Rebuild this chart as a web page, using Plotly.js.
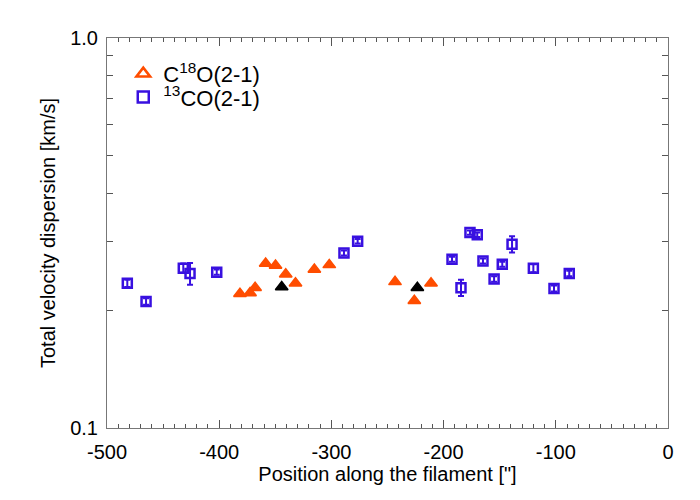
<!DOCTYPE html>
<html>
<head>
<meta charset="utf-8">
<script src="https://cdn.plot.ly/plotly-3.0.1.min.js"></script>
<style>html,body{margin:0;padding:0;background:#fff;}#chart{width:700px;height:500px;}</style>
</head>
<body>
<div id="chart"></div>
<script>
// C18O(2-1) measurements
const c18oPos = [-381.5, -372.5, -368, -358.6, -349.8, -340.7, -332, -315.2, -301.9, -243.3, -226.1, -211.2];
const c18oSig = [0.221, 0.222, 0.229, 0.264, 0.261, 0.248, 0.235, 0.255, 0.262, 0.237, 0.212, 0.235];
// highlighted (black) C18O points
const blackPos = [-344.3, -223.4];
const blackSig = [0.230, 0.229];
// 13CO(2-1) measurements
const coPos = [-481.9, -465.2, -432, -426, -402.2, -288.8, -276.6, -192.5, -184.5, -176.5, -170, -164.9, -155, -147.7, -139, -120, -101.6, -88];
const coSig = [0.235, 0.211, 0.257, 0.249, 0.251, 0.281, 0.301, 0.271, 0.229, 0.317, 0.313, 0.268, 0.241, 0.263, 0.296, 0.257, 0.228, 0.249];
const coErr = [0.005, 0.004, 0.007, 0.016, 0.004, 0.004, 0.004, 0.004, 0.011, 0.004, 0.004, 0.004, 0.004, 0.004, 0.014, 0.006, 0.004, 0.004];

// axis ticks
const xTickVals = [-500, -400, -300, -200, -100, 0];
const xTickText = ['-500', '-400', '-300', '-200', '-100', '0'];
const yTickVals = [0.1, 1];
const yTickText = ['0.1', '1.0'];
const yMinorVals = [0.2, 0.3, 0.4, 0.5, 0.6, 0.7, 0.8, 0.9];

const orange = '#ff4d00';
const blue = '#3810e0';

const traces = [
  {x: coPos, y: coSig, type: 'scatter', mode: 'markers', showlegend: false,
   marker: {symbol: 'square-open', size: 9, color: blue, line: {width: 2.5, color: blue}},
   error_y: {type: 'data', array: coErr, visible: true, color: blue, thickness: 2, width: 3}},
  {x: c18oPos, y: c18oSig, type: 'scatter', mode: 'markers', showlegend: false,
   marker: {symbol: 'triangle-up', size: 11, color: orange, line: {width: 1.5, color: orange}}},
  {x: blackPos, y: blackSig, type: 'scatter', mode: 'markers', showlegend: false,
   marker: {symbol: 'triangle-up', size: 11, color: '#000', line: {width: 1.5, color: '#000'}}},
  {x: [null], y: [null], type: 'scatter', mode: 'markers', name: 'C<sup>18</sup>O(2-1)', legend: 'legend',
   marker: {symbol: 'triangle-up-open', size: 12, color: orange, line: {width: 2.5, color: orange}}},
  {x: [null], y: [null], type: 'scatter', mode: 'markers', name: '<sup>13</sup>CO(2-1)', legend: 'legend2',
   marker: {symbol: 'square-open', size: 11, color: blue, line: {width: 2.5, color: blue}}}
];

const fam = 'Liberation Sans, Arial, sans-serif';
const font = {family: fam, size: 20, color: '#000'};
const legFont = {family: fam, size: 22, color: '#000'};
const layout = {
  width: 700, height: 500,
  margin: {l: 107, r: 32, t: 38, b: 72},
  paper_bgcolor: '#fff', plot_bgcolor: '#fff',
  font: font,
  showlegend: true,
  legend: {x: 0.029, y: 0.962, xanchor: 'left', yanchor: 'top', bgcolor: 'rgba(0,0,0,0)',
           font: legFont, itemwidth: 30},
  legend2: {x: 0.029, y: 0.902, xanchor: 'left', yanchor: 'top', bgcolor: 'rgba(0,0,0,0)',
           font: legFont, itemwidth: 30},
  xaxis: {
    range: [-500, 0], tickmode: 'array', tickvals: xTickVals, ticktext: xTickText,
    ticks: 'inside', ticklen: 8, tickwidth: 1, tickcolor: '#555',
    showline: true, linecolor: '#777', linewidth: 1, mirror: 'allticks',
    showgrid: false, zeroline: false, ticklabelstandoff: 6,
    minor: {dtick: 10, tick0: -500, ticks: 'inside', ticklen: 4, tickcolor: '#555', showgrid: false},
    title: {text: 'Position along the filament ["]', font: font, standoff: 1},
    tickfont: font
  },
  yaxis: {
    type: 'log', range: [-1, 0],
    tickmode: 'array', tickvals: yTickVals, ticktext: yTickText,
    ticks: 'inside', ticklen: 8, tickwidth: 1, tickcolor: '#555',
    showline: true, linecolor: '#777', linewidth: 1, mirror: 'allticks',
    showgrid: false, zeroline: false, ticklabelstandoff: 4,
    minor: {tickmode: 'array', tickvals: yMinorVals, ticks: 'inside', ticklen: 6, tickcolor: '#555', showgrid: false},
    title: {text: 'Total velocity dispersion [km/s]', font: font, standoff: 9},
    tickfont: font
  }
};

Plotly.newPlot('chart', traces, layout, {displayModeBar: false, staticPlot: true});
</script>
</body>
</html>
